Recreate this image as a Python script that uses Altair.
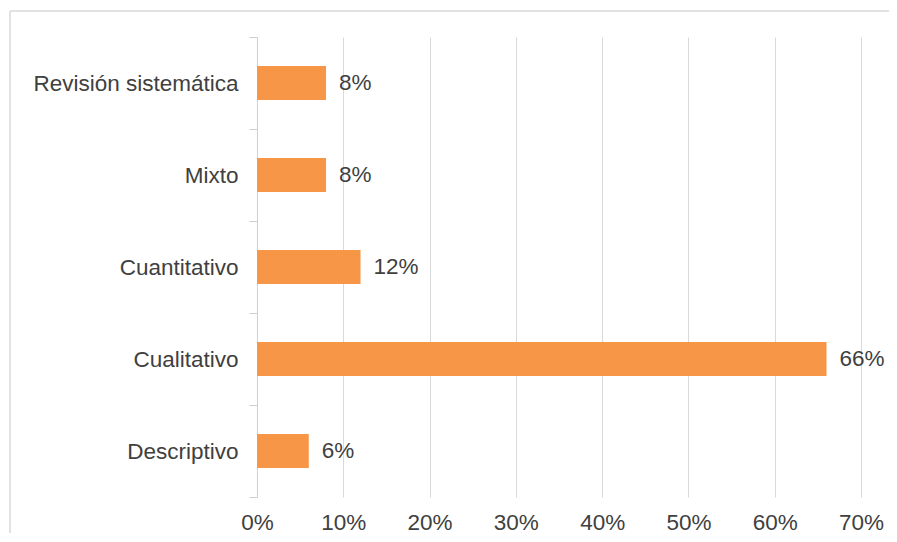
import altair as alt
import pandas as pd

categories = ["Revisión sistemática", "Mixto", "Cuantitativo", "Cualitativo", "Descriptivo"]
values = [8, 8, 12, 66, 6]
labels = ["8%", "8%", "12%", "66%", "6%"]
x_ticks = [0, 10, 20, 30, 40, 50, 60, 70]

df = pd.DataFrame({"cat": categories, "val": values, "lab": labels})

FONT = "Liberation Sans"
GRID = "#d9d9d9"
TXT = "#404040"
FS = 22.5

y_enc = alt.Y("cat:N", sort=categories, title=None,
              scale=alt.Scale(paddingInner=0, paddingOuter=0),
              axis=alt.Axis(tickBand="extent", tickSize=8, tickColor="#cfcfcf",
                            domainColor="#cfcfcf", labelPadding=11, labelFont=FONT,
                            labelFontSize=FS, labelColor=TXT, grid=False, labelLimit=400))
x_enc = alt.X("val:Q", title=None,
              scale=alt.Scale(domain=[0, 70], nice=False),
              axis=alt.Axis(values=x_ticks, labelExpr="datum.value + '%'", grid=True,
                            gridColor=GRID, ticks=False, domain=False, labelPadding=14,
                            labelFlush=False, labelOverlap=False,
                            labelFont=FONT, labelFontSize=FS, labelColor=TXT))

bars = alt.Chart(df).mark_bar(size=34, color="#F79646").encode(x=x_enc, y=y_enc)
text = alt.Chart(df).mark_text(align="left", baseline="middle", dx=13, font=FONT,
                               fontSize=FS, color=TXT).encode(
    x="val:Q", y=alt.Y("cat:N", sort=categories), text="lab:N")

border_df = pd.DataFrame({"k": [0]})
top_line = alt.Chart(border_df).mark_rule(color=GRID, strokeWidth=1.5).encode(
    x=alt.value(-247), x2=alt.value(640), y=alt.value(-26))
left_line = alt.Chart(border_df).mark_rule(color=GRID, strokeWidth=1.5).encode(
    x=alt.value(-247), y=alt.value(-26), y2=alt.value(505))

chart = alt.layer(bars, text, top_line, left_line).properties(
    width=604, height=460,
    autosize=alt.AutoSizeParams(type="none"),
    padding={"left": 249, "top": 29, "right": 28, "bottom": 36},
).configure_view(stroke=None)

chart.save("out.html", embed_options={"renderer": "svg", "actions": False})
